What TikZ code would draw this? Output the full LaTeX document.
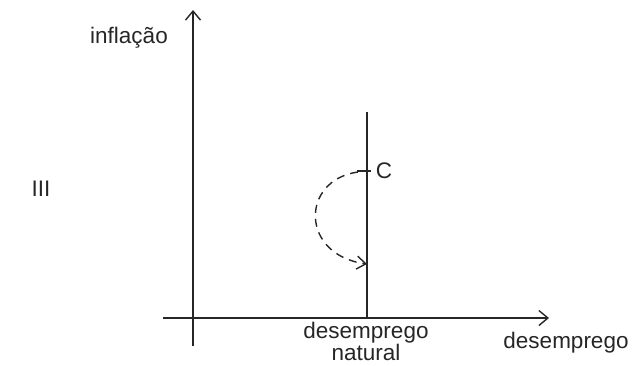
\documentclass[tikz,border=0pt]{standalone}
\usepackage{fontspec}
\setmainfont{Liberation Sans}
\usetikzlibrary{arrows.meta}
\begin{document}
\begin{tikzpicture}[x=1pt,y=-1pt,
  axis/.style={line width=1.6pt, color=black!85},
  tip/.style={-{Straight Barb[length=9pt,width=15pt,line width=1.4pt]}},
  lbl/.style={font=\fontsize{22.5}{22}\selectfont, inner sep=0pt, text=black!85},
  path/.style={line width=1.4pt, color=black!85, dash pattern=on 8pt off 6pt}]
\useasboundingbox (0,0) rectangle (636,365);
\coordinate (vb) at (193,346);
\coordinate (vt) at (193,10);
\coordinate (hl) at (163,318);
\coordinate (hr) at (549,318);
\coordinate (nt) at (367,112);
\coordinate (nb) at (367,318);
\coordinate (tl) at (357,171);
\coordinate (tr) at (371,171);
\coordinate (cs) at (358,172);
\coordinate (ce) at (367,264);
\draw[axis,tip] (vb) -- (vt);
\draw[axis,tip] (hl) -- (hr);
\draw[axis] (nb) -- (nt);
\draw[axis] (tl) -- (tr);
\draw[path,-{Straight Barb[length=9pt,width=13pt,line width=1.4pt]}] (cs) .. controls (300,180) and (300,255) .. (ce);
\node[lbl] (infl) at (129,38) {inflação};
\node[lbl] (c) at (384,171) {C};
\node[lbl] (iii) at (41,189) {III};
\node[lbl, align=center] (dn) at (366,341) {desemprego\\natural};
\node[lbl] (des) at (566,343) {desemprego};
\end{tikzpicture}
\end{document}
